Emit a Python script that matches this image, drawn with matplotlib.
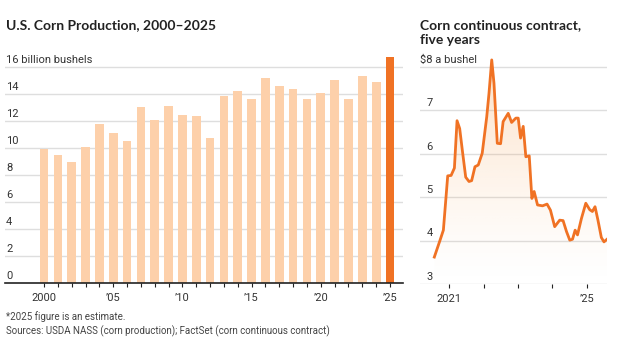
import pandas as pd
import matplotlib
matplotlib.use("Agg")
import matplotlib.pyplot as plt
import matplotlib.dates as mdates
from matplotlib import font_manager
import numpy as np

# --- data -----------------------------------------------------------------
years = list(range(2000, 2026))
production = [9.92, 9.50, 8.97, 10.09, 11.81, 11.11, 10.53, 13.04, 12.09, 13.09,
              12.45, 12.36, 10.76, 13.83, 14.22, 13.60, 15.15, 14.61, 14.34, 13.62,
              14.11, 15.07, 13.65, 15.34, 14.87, 16.74]
bar_ticks = [2000, 2005, 2010, 2015, 2020, 2025]
bar_tick_labels = ["2000", "\u201905", "\u201910", "\u201915", "\u201920", "\u201925"]
bar_y_ticks = [0, 2, 4, 6, 8, 10, 12, 14, 16]

price_dates = ["2020-07-28", "2020-09-27", "2020-11-01", "2020-12-17", "2021-01-22",
               "2021-02-26", "2021-03-26", "2021-04-23", "2021-05-25", "2021-06-26",
               "2021-07-31", "2021-08-28", "2021-10-02", "2021-11-06", "2021-12-18",
               "2022-02-04", "2022-02-28", "2022-03-29", "2022-04-22", "2022-05-27",
               "2022-07-01", "2022-07-28", "2022-09-20", "2022-10-26", "2022-12-10",
               "2023-01-04", "2023-01-29", "2023-02-26", "2023-03-26", "2023-05-01",
               "2023-05-29", "2023-06-22", "2023-07-28", "2023-09-19", "2023-11-06",
               "2023-12-12", "2024-01-26", "2024-03-19", "2024-04-24", "2024-05-30",
               "2024-07-04", "2024-08-02", "2024-08-30", "2024-09-24", "2024-11-05",
               "2024-12-21", "2025-02-01", "2025-03-01", "2025-03-29", "2025-04-29",
               "2025-06-04", "2025-07-02", "2025-08-03"]
prices = [3.62, 4.01, 4.24, 5.49, 5.50, 5.67, 6.76, 6.58, 6.01, 5.46,
          5.36, 5.38, 5.70, 5.74, 6.01, 6.85, 7.39, 8.16, 7.62, 6.24,
          6.23, 6.74, 6.93, 6.72, 6.82, 6.82, 6.36, 6.63, 5.93, 5.95,
          4.97, 5.13, 4.82, 4.80, 4.84, 4.70, 4.32, 4.47, 4.46, 4.21,
          4.01, 4.03, 4.24, 4.13, 4.51, 4.86, 4.71, 4.67, 4.78, 4.47,
          4.07, 3.97, 4.03]
price_tick_years = ["2021-01-01", "2022-01-01", "2023-01-01", "2024-01-01", "2025-01-01"]
price_tick_labels = ["2021", "", "", "", "\u201925"]
price_y_ticks = [3, 4, 5, 6, 7, 8]

# --- fonts ----------------------------------------------------------------
installed = {f.name for f in font_manager.fontManager.ttflist}
narrow = "Liberation Sans Narrow" if "Liberation Sans Narrow" in installed else "Roboto"
title_font = "Lato" if "Lato" in installed else "DejaVu Sans"
plt.rcParams["font.family"] = [narrow, "DejaVu Sans"]

LIGHT = "#FDD0AA"
ORANGE = "#F07224"
GRID = "#DEDEDE"
TEXT = "#333333"

fig = plt.figure(figsize=(6.19, 3.42), dpi=100)

# --- left: bar chart ------------------------------------------------------
ax1 = fig.add_axes([5 / 619, 59 / 342, 398 / 619, (283 - 57) / 342])
colors = [LIGHT] * (len(years) - 1) + [ORANGE]
ax1.bar(years, production, width=0.63, color=colors, zorder=2)
ax1.set_xlim(1997.18, 2025.94)
ax1.set_ylim(0, 16.74)
for v in bar_y_ticks:
    if v > 0:
        ax1.axhline(v, color=GRID, lw=1, zorder=1)
    label = "16 billion bushels" if v == 16 else str(v)
    ax1.annotate(label, xy=(0.003, v), xycoords=ax1.get_yaxis_transform(),
                 xytext=(0, 1.5), textcoords="offset points",
                 ha="left", va="bottom", fontsize=8, color=TEXT)
ax1.set_yticks([])
ax1.set_xticks(bar_ticks)
ax1.set_xticklabels(bar_tick_labels)
ax1.set_xticks(years, minor=True)
ax1.tick_params(axis="x", which="both", length=3, width=0.8, color="#222222",
                labelsize=8, labelcolor=TEXT, pad=4)
for s in ["top", "right", "left"]:
    ax1.spines[s].set_visible(False)
ax1.spines["bottom"].set_color("#222222")
ax1.spines["bottom"].set_linewidth(1.2)
ax1.spines["bottom"].set_zorder(3)

fig.text(6 / 619, 1 - 25 / 342, "U.S. Corn Production, 2000\u20132025",
         fontsize=10, fontweight="bold", family=title_font, color="#222222",
         ha="left", va="center")

# --- right: line chart ----------------------------------------------------
dates = pd.to_datetime(price_dates)
ax2 = fig.add_axes([420 / 619, 58 / 342, 187 / 619, (284 - 56) / 342])
start = mdates.date2num(pd.Timestamp("2020-02-27"))
end = mdates.date2num(dates[-1])
for v in price_y_ticks:
    ax2.axhline(v, color=GRID, lw=1, zorder=1)
    label = "$8 a bushel" if v == 8 else str(v)
    x0 = 0.0 if v == 8 else 0.035
    ax2.annotate(label, xy=(x0, v), xycoords=ax2.get_yaxis_transform(),
                 xytext=(0, 1.5), textcoords="offset points",
                 ha="left", va="bottom", fontsize=8, color=TEXT)
ax2.set_yticks([])

# gradient fill below the line
fill = ax2.fill_between(dates, prices, 3, color="none", lw=0)
grad = np.linspace(0.0, 1.0, 256).reshape(-1, 1)
rgba = np.zeros((256, 1, 4))
rgba[..., 0] = 0xF7 / 255
rgba[..., 1] = 0xA0 / 255
rgba[..., 2] = 0x50 / 255
rgba[..., 3] = 0.32 * grad ** 1.3
img = ax2.imshow(rgba, extent=[mdates.date2num(dates[0]), end, 3, 8.25],
                 origin="lower", aspect="auto", zorder=1.5)
img.set_clip_path(fill.get_paths()[0], transform=ax2.transData)
ax2.plot(dates, prices, color=ORANGE, lw=2, zorder=3, solid_joinstyle="round")
ax2.set_xlim(start, end)
ax2.set_ylim(3, 8.25)

ax2.set_xticks(pd.to_datetime(price_tick_years))
ax2.set_xticklabels(price_tick_labels)
ax2.tick_params(axis="x", length=3, width=0.8, color="#222222",
                labelsize=8, labelcolor=TEXT, pad=4)
for s in ["top", "right", "left", "bottom"]:
    ax2.spines[s].set_visible(False)

fig.text(420 / 619, 1 - 32.5 / 342, "Corn continuous contract,\nfive years",
         fontsize=10, fontweight="bold", family=title_font, color="#222222",
         ha="left", va="center", linespacing=1.3)

# --- footer ---------------------------------------------------------------
fig.text(6 / 619, 1 - 317 / 342, "*2025 figure is an estimate.",
         fontsize=7, color="#444444", ha="left", va="center")
fig.text(6 / 619, 1 - 331 / 342,
         "Sources: USDA NASS (corn production); FactSet (corn continuous contract)",
         fontsize=7, color="#444444", ha="left", va="center")

fig.savefig("out.png", dpi=100, facecolor="white")
